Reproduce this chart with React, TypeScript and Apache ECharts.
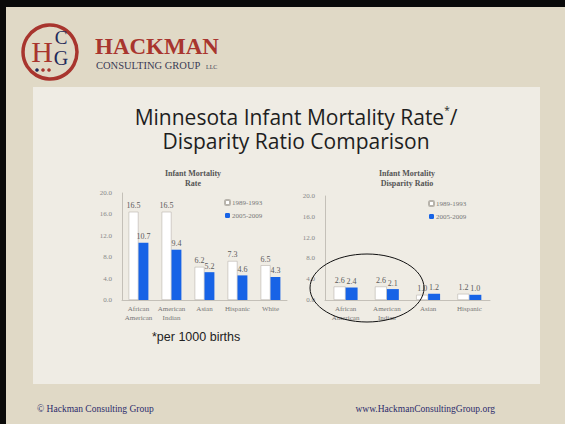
import React, { useEffect, useRef } from "react";
import * as echarts from "echarts";

const leftCategories = ["African\nAmerican", "American\nIndian", "Asian", "Hispanic", "White"];
const leftEarly = [16.5, 16.5, 6.2, 7.3, 6.5];
const leftLate = [10.7, 9.4, 5.2, 4.6, 4.3];

const rightCategories = ["African\nAmerican", "American\nIndian", "Asian", "Hispanic"];
const rightEarly = [2.6, 2.6, 1.0, 1.2];
const rightLate = [2.4, 2.1, 1.2, 1.0];

const periods = ["1989-1993", "2005-2009"];

const SERIF = "'Liberation Serif', 'DejaVu Serif', serif";
const SANS = "'Liberation Sans', Arial, sans-serif";
const TITLE_FONT = "'Open Sans', 'DejaVu Sans', sans-serif";
const BLUE = "#1763e6";

export default function App() {
  const ref = useRef<HTMLDivElement>(null);

  useEffect(() => {
    if (!ref.current) return;
    const chart = echarts.init(ref.current, undefined, { renderer: "svg" });

    const yAxisBase = (gridIndex: number) => ({
      type: "value",
      gridIndex,
      min: 0,
      max: 20,
      interval: 4,
      axisLine: { show: true, lineStyle: { color: "#c4c0b8", width: 1 } },
      axisTick: { show: false },
      splitLine: { show: false },
      axisLabel: {
        fontFamily: SERIF,
        fontSize: 7,
        color: "#888",
        margin: 10,
        formatter: (v: number) => v.toFixed(1),
      },
    });
    const xAxisBase = (gridIndex: number, data: string[]) => ({
      type: "category",
      gridIndex,
      data,
      axisLine: { show: true, lineStyle: { color: "#c4c0b8", width: 1 } },
      axisTick: { show: false },
      axisLabel: {
        fontFamily: SERIF,
        fontSize: 7,
        color: "#777",
        lineHeight: 9,
        margin: 4,
        interval: 0,
      },
    });
    const label = {
      show: true,
      position: "top",
      distance: 2,
      fontFamily: SERIF,
      fontSize: 8,
      color: "#5a5a5a",
      formatter: (p: any) => Number(p.value).toFixed(1),
    };
    const whiteStyle = { color: "#ffffff", borderColor: "#b8b4ac", borderWidth: 0.6 };
    const blueStyle = { color: BLUE };

    const legendBase = (left: number, top: number) => ({
      data: periods,
      left,
      top,
      orient: "vertical",
      itemWidth: 5,
      itemHeight: 5,
      itemGap: 6,
      textStyle: { fontFamily: SERIF, fontSize: 7, color: "#777", padding: [0, 0, 0, -3] },
      padding: 0,
    });

    chart.setOption({
      animation: false,
      graphic: [
        { type: "rect", shape: { x: 0, y: 0, width: 565, height: 424 }, style: { fill: "#e0d9c6" }, z: -10 },
        { type: "rect", shape: { x: 0, y: 0, width: 565, height: 7 }, style: { fill: "#0a0a0a" }, z: -9 },
        { type: "rect", shape: { x: 0, y: 0, width: 6, height: 424 }, style: { fill: "#0a0a0a" }, z: -9 },
        { type: "rect", shape: { x: 33, y: 87, width: 507, height: 297 }, style: { fill: "#efece4" }, z: -9 },
        // logo
        { type: "circle", shape: { cx: 50, cy: 52, r: 27 }, style: { fill: "none", stroke: "#a8352e", lineWidth: 3.5 }, z: 5 },
        { type: "text", x: 42, y: 66, style: { text: "H", fontFamily: SERIF, fontSize: 30, fill: "#a8352e", textAlign: "center", textVerticalAlign: "bottom" }, z: 5 },
        { type: "text", x: 61, y: 47, style: { text: "C", fontFamily: SERIF, fontSize: 19, fill: "#1f2a5a", textAlign: "center", textVerticalAlign: "bottom" }, z: 5 },
        { type: "text", x: 61, y: 68, style: { text: "G", fontFamily: SERIF, fontSize: 20, fill: "#1f2a5a", textAlign: "center", textVerticalAlign: "bottom" }, z: 5 },
        { type: "circle", shape: { cx: 37, cy: 70, r: 1.8 }, style: { fill: "#1f2a5a" }, z: 5 },
        { type: "circle", shape: { cx: 43, cy: 70, r: 1.8 }, style: { fill: "#a8352e" }, z: 5 },
        { type: "circle", shape: { cx: 49, cy: 70, r: 1.8 }, style: { fill: "#a8352e" }, z: 5 },
        { type: "text", x: 95, y: 58, style: { text: "HACKMAN", fontFamily: SERIF, fontSize: 23, fontWeight: "bold", fill: "#a8352e", textVerticalAlign: "bottom" }, z: 5 },
        { type: "text", x: 96, y: 71, style: { text: "CONSULTING GROUP", fontFamily: SERIF, fontSize: 10.5, fill: "#3a3b55", textVerticalAlign: "bottom" }, z: 5 },
        { type: "text", x: 206, y: 70, style: { text: "LLC", fontFamily: SERIF, fontSize: 6, fill: "#3a3b55", textVerticalAlign: "bottom" }, z: 5 },
        // main title (two lines)
        {
          type: "text",
          x: 296,
          y: 105,
          style: {
            text: "Minnesota Infant Mortality Rate{s|*}/\nDisparity Ratio Comparison",
            rich: { s: { fontSize: 10, verticalAlign: "top", padding: [0, 0, 10, 0], fontFamily: TITLE_FONT, fill: "#1e1e1e" } },
            fontFamily: TITLE_FONT,
            fontSize: 21,
            lineHeight: 24,
            fill: "#1e1e1e",
            textAlign: "center",
            textVerticalAlign: "top",
          },
          z: 5,
        },
        // sub-chart titles
        { type: "text", x: 193, y: 168, style: { text: "Infant Mortality\nRate", fontFamily: SERIF, fontSize: 8, fontWeight: "bold", fill: "#555", textAlign: "center", lineHeight: 10 }, z: 5 },
        { type: "text", x: 407, y: 168, style: { text: "Infant Mortality\nDisparity Ratio", fontFamily: SERIF, fontSize: 8, fontWeight: "bold", fill: "#555", textAlign: "center", lineHeight: 10 }, z: 5 },
        // ellipse
        { type: "ellipse", shape: { cx: 367, cy: 288, rx: 57, ry: 34 }, style: { fill: "none", stroke: "#111", lineWidth: 1 }, z: 20 },
        // footnote
        { type: "text", x: 152, y: 337, style: { text: "*per 1000 births", fontFamily: SANS, fontSize: 12.5, fill: "#222", textVerticalAlign: "middle" }, z: 5 },
        // footer
        { type: "text", x: 37, y: 409, style: { text: "\u00a9 Hackman Consulting Group", fontFamily: SERIF, fontSize: 9.5, fill: "#2c2c6c", textVerticalAlign: "middle" }, z: 5 },
        { type: "text", x: 495, y: 409, style: { text: "www.HackmanConsultingGroup.org", fontFamily: SERIF, fontSize: 9.5, fill: "#2c2c6c", textAlign: "right", textVerticalAlign: "middle" }, z: 5 },
      ],
      legend: [legendBase(224, 199), legendBase(428, 200)],
      grid: [
        { left: 122, right: 278, top: 193, bottom: 124 },
        { left: 325, right: 75, top: 196, bottom: 124 },
      ],
      xAxis: [xAxisBase(0, leftCategories), xAxisBase(1, rightCategories)],
      yAxis: [yAxisBase(0), yAxisBase(1)],
      series: [
        { name: periods[0], type: "bar", xAxisIndex: 0, yAxisIndex: 0, data: leftEarly, itemStyle: whiteStyle, barGap: "0%", barCategoryGap: "40%", label },
        { name: periods[1], type: "bar", xAxisIndex: 0, yAxisIndex: 0, data: leftLate, itemStyle: blueStyle, barGap: "0%", barCategoryGap: "40%", label },
        { name: periods[0], type: "bar", xAxisIndex: 1, yAxisIndex: 1, data: rightEarly, itemStyle: whiteStyle, barGap: "0%", barCategoryGap: "42%", label },
        { name: periods[1], type: "bar", xAxisIndex: 1, yAxisIndex: 1, data: rightLate, itemStyle: blueStyle, barGap: "0%", barCategoryGap: "42%", label },
      ],
    });

    return () => chart.dispose();
  }, []);

  return (
    <div
      ref={ref}
      style={{ position: "absolute", left: 0, top: 0, width: 565, height: 424 }}
    />
  );
}
